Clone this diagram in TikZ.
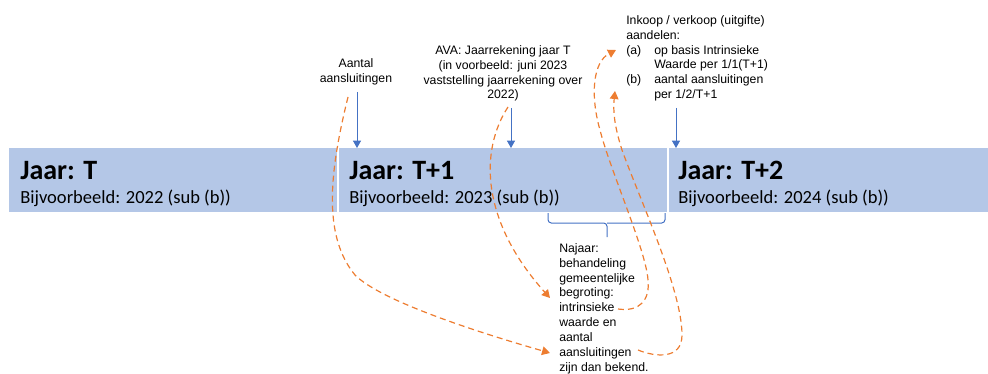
\documentclass[tikz,border=0pt]{standalone}
\usepackage{fontspec}
\setmainfont{Liberation Sans}
\newfontfamily\calibri{Carlito}
\usetikzlibrary{arrows.meta}
\definecolor{barblue}{HTML}{B4C7E7}
\definecolor{arrblue}{HTML}{4472C4}
\definecolor{orng}{HTML}{ED7D31}
\tikzset{
  bar/.style={fill=barblue, draw=none, anchor=north west, minimum height=48pt, inner sep=0pt},
  title/.style={font=\calibri\bfseries\fontsize{21pt}{24pt}\selectfont, anchor=base west, inner sep=0pt},
  subtitle/.style={font=\calibri\fontsize{13.9pt}{16pt}\selectfont, anchor=base west, inner sep=0pt},
  ann/.style={font=\fontsize{9.2pt}{11.2pt}\selectfont, inner sep=0pt},
  bluearrow/.style={draw=arrblue, line width=0.75pt, -{Triangle[length=5.5pt,width=6pt]}},
  odash/.style={draw=orng, line width=0.9pt, dash pattern=on 4.5pt off 3pt, -{Triangle[length=6pt,width=6.5pt]}},
  bracestyle/.style={draw=arrblue, line width=0.75pt, rounded corners=2.5pt}
}
\begin{document}
\begin{tikzpicture}[x=0.75pt,y=-0.75pt]
\useasboundingbox (0,0) rectangle (988,374);
% bars
\node[bar, minimum width=246pt] (b1) at (9,148) {};
\node[bar, minimum width=246pt] (b2) at (339,148) {};
\node[bar, minimum width=239.25pt] (b3) at (669,148) {};
\node[title] (t1) at (20,180) {Jaar: T};
\node[title] (t2) at (349,180) {Jaar: T+1};
\node[title] (t3) at (678,180) {Jaar: T+2};
\node[subtitle] (s1) at (20,204) {Bijvoorbeeld: 2022 (sub (b))};
\node[subtitle] (s2) at (349,204) {Bijvoorbeeld: 2023 (sub (b))};
\node[subtitle] (s3) at (678,204) {Bijvoorbeeld: 2024 (sub (b))};
% annotations
\node[ann, anchor=north, align=center] (aantal) at (356,58) {Aantal\\aansluitingen};
\node[ann, anchor=north, align=center] (ava) at (503,45) {AVA: Jaarrekening jaar T\\(in voorbeeld: juni 2023\\vaststelling jaarrekening over\\2022)};
\node[ann, anchor=north west, align=left] (inkoop) at (626,15) {Inkoop / verkoop (uitgifte)\\aandelen:\\\makebox[21pt][l]{(a)}op basis Intrinsieke\\\hspace*{21pt}Waarde per 1/1(T+1)\\\makebox[21pt][l]{(b)}aantal aansluitingen\\\hspace*{21pt}per 1/2/T+1};
\node[ann, anchor=north west, align=left] (najaar) at (559,243) {Najaar:\\behandeling\\gemeentelijke\\begroting:\\intrinsieke\\waarde en\\aantal\\aansluitingen\\zijn dan bekend.};
% blue arrows
\coordinate (a1s) at (357,92);
\coordinate (a1e) at (357,148);
\coordinate (a2s) at (511,108);
\coordinate (a2e) at (511,148);
\coordinate (a3s) at (676,108);
\coordinate (a3e) at (676,148);
\draw[bluearrow] (a1s) -- (a1e);
\draw[bluearrow] (a2s) -- (a2e);
\draw[bluearrow] (a3s) -- (a3e);
% brace
\coordinate (brl) at (548,213);
\coordinate (brr) at (665,213);
\coordinate (brt) at (607,237);
\draw[bracestyle] (brl) -- (548,223) -- (607,223) -- (brt);
\draw[bracestyle] (brr) -- (665,223) -- (607,223);
% orange dashed curves
\coordinate (c1s) at (348,97);
\coordinate (c1e) at (550,353);
\draw[odash] (c1s) .. controls (330,170) and (322,235) .. (355,275) .. controls (380,300) and (470,330) .. (c1e);
\coordinate (c2s) at (508,107);
\coordinate (c2e) at (550,298);
\draw[odash] (c2s) .. controls (480,150) and (480,220) .. (c2e);
\coordinate (c3s) at (618,309);
\coordinate (c3e) at (616,50);
\draw[odash] (c3s) .. controls (640,312) and (650,300) .. (648,280) .. controls (646,250) and (610,170) .. (600,130) .. controls (590,95) and (593,62) .. (c3e);
\coordinate (c4s) at (638,350);
\coordinate (c4e) at (615,91);
\draw[odash] (c4s) .. controls (655,357) and (682,360) .. (682,335) .. controls (682,290) and (640,200) .. (622,150) .. controls (614,125) and (613,110) .. (c4e);
\end{tikzpicture}
\end{document}
